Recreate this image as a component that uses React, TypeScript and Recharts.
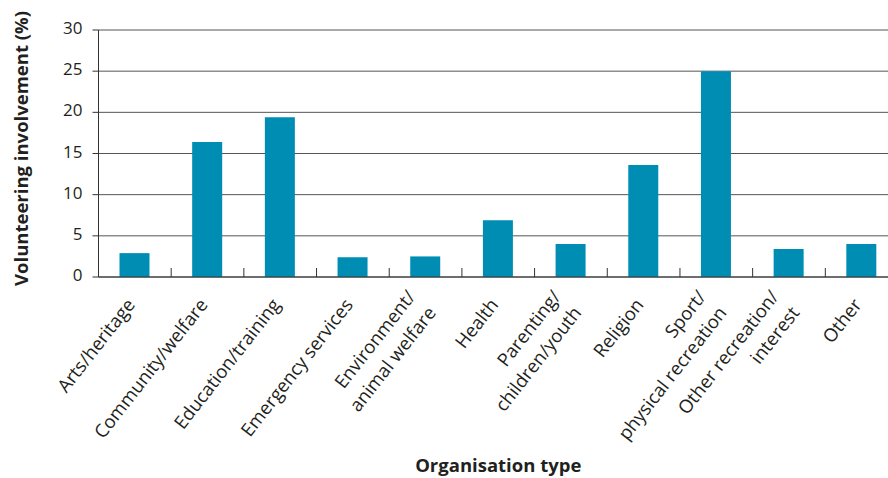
import React from 'react';
import { BarChart, Bar, XAxis, YAxis, CartesianGrid, Label } from 'recharts';

const categories = [
  'Arts/heritage',
  'Community/welfare',
  'Education/training',
  'Emergency services',
  'Environment/\nanimal welfare',
  'Health',
  'Parenting/\nchildren/youth',
  'Religion',
  'Sport/\nphysical recreation',
  'Other recreation/\ninterest',
  'Other',
];
const values = [2.9, 16.4, 19.4, 2.4, 2.5, 6.9, 4.0, 13.6, 25.0, 3.4, 4.0];
const yTicks = [0, 5, 10, 15, 20, 25, 30];
const xTitle = 'Organisation type';
const yTitle = 'Volunteering involvement (%)';

const data = categories.map((c, i) => ({ label: c, value: values[i] }));

const FONT = '"Open Sans", Lato, sans-serif';
const TXT = '#231f20';

function CatTick(props: any) {
  const { x, y, payload } = props;
  const off = payload && typeof payload.offset === 'number' ? payload.offset : 0;
  const lines = String(payload.value).split('\n');
  const lh = 26;
  return (
    <g>
      <line x1={x - off} x2={x - off} y1={y} y2={y - 9} stroke="#333" strokeWidth={1} />
      <g transform={`translate(${x + 1},${y + 28})`}>
        <text transform="rotate(-52)" textAnchor="end" fontFamily={FONT} fontSize={18.5} fill={TXT}>
          {lines.map((l, i) => (
            <tspan key={i} x={0} y={(i - (lines.length - 1) / 2) * lh}>
              {l}
            </tspan>
          ))}
        </text>
      </g>
    </g>
  );
}

function YTitle(props: any) {
  const vb = props.viewBox || {};
  const cx = 28;
  const cy = vb.y + vb.height / 2 - 5;
  return (
    <text
      x={cx}
      y={cy}
      transform={`rotate(-90, ${cx}, ${cy})`}
      textAnchor="middle"
      fontFamily={FONT}
      fontWeight={700}
      fontSize={18.5}
      fill={TXT}
    >
      {yTitle}
    </text>
  );
}

export default function App() {
  return (
    <div
      style={{
        position: 'fixed',
        left: 0,
        top: 0,
        width: 888,
        height: 478,
        overflow: 'hidden',
        background: '#fff',
      }}
    >
      <BarChart
        width={900}
        height={478}
        data={data}
        margin={{ top: 30, right: 2, left: 0, bottom: 0 }}
        barSize={30}
      >
        <CartesianGrid vertical={false} stroke="#555" />
        <XAxis
          dataKey="label"
          interval={0}
          tickLine={false}
          tickSize={0}
          tickMargin={0}
          height={201}
          axisLine={{ stroke: '#333' }}
          tick={<CatTick />}
        >
          <Label
            value={xTitle}
            position="insideBottom"
            offset={6}
            style={{ fontFamily: FONT, fontWeight: 700, fontSize: 18.5, fill: TXT }}
          />
        </XAxis>
        <YAxis
          width={98.5}
          domain={[0, 30]}
          ticks={yTicks}
          interval={0}
          tickSize={6}
          tickMargin={10}
          axisLine={{ stroke: '#333' }}
          tickLine={{ stroke: '#333' }}
          tick={{ fontFamily: FONT, fontSize: 17, fill: TXT, dy: -2 }}
        >
          <Label content={<YTitle />} />
        </YAxis>
        <Bar dataKey="value" fill="#008db3" isAnimationActive={false} />
      </BarChart>
    </div>
  );
}
